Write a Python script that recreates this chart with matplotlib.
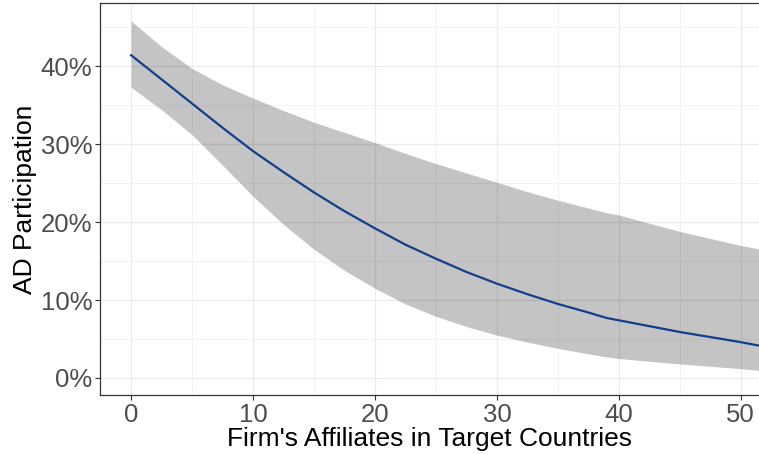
import numpy as np
import matplotlib
matplotlib.use("Agg")
import matplotlib.pyplot as plt
from matplotlib.ticker import FuncFormatter, MultipleLocator

plt.rcParams['font.family'] = ['Liberation Sans', 'DejaVu Sans']

# predicted participation and 95% band against number of affiliates
affiliates = [0, 2.5, 5, 7.5, 10, 12.5, 15, 17.5, 20, 22.5, 25, 27.5, 30,
              32.5, 35, 37.5, 39, 40, 45, 50, 52]
fit = [0.414, 0.383, 0.352, 0.321, 0.291, 0.264, 0.238, 0.214, 0.192, 0.171, 0.153,
       0.136, 0.121, 0.1075, 0.095, 0.084, 0.077, 0.074, 0.059, 0.046, 0.040]
upper = [0.458, 0.425, 0.397, 0.376, 0.359, 0.343, 0.328, 0.315, 0.302, 0.288, 0.275,
         0.263, 0.251, 0.239, 0.228, 0.218, 0.212, 0.209, 0.188, 0.170, 0.164]
lower = [0.373, 0.344, 0.312, 0.273, 0.233, 0.197, 0.165, 0.138, 0.115, 0.095, 0.079,
         0.066, 0.055, 0.046, 0.038, 0.031, 0.027, 0.025, 0.018, 0.012, 0.009]

x_ticks = [0, 10, 20, 30, 40, 50]
y_ticks = [0.0, 0.1, 0.2, 0.3, 0.4]

fig = plt.figure(figsize=(7.59, 4.54), dpi=100)
ax = fig.add_axes([0.1318, 0.130, 0.8690, 0.8634])

ax.fill_between(affiliates, lower, upper, color='black', alpha=0.23, linewidth=0, zorder=2)
ax.plot(affiliates, fit, color='#123f8c', linewidth=1.6, zorder=3)

ax.set_xlim(-2.55, 51.55)
ax.set_ylim(-0.0218, 0.481)

ax.set_xticks(x_ticks)
ax.set_yticks(y_ticks)
ax.xaxis.set_minor_locator(MultipleLocator(5))
ax.yaxis.set_minor_locator(MultipleLocator(0.05))
ax.yaxis.set_major_formatter(FuncFormatter(lambda v, _: f"{v * 100:.0f}%"))

ax.grid(which='major', color='#EBEBEB', linewidth=0.9, zorder=0)
ax.grid(which='minor', color='#F0F0F0', linewidth=0.6, zorder=0)
ax.set_axisbelow(True)

for side in ['left', 'bottom', 'top']:
    ax.spines[side].set_color('#333333')
    ax.spines[side].set_linewidth(0.9)
ax.spines['right'].set_visible(False)

ax.tick_params(which='major', length=3.5, width=0.8, color='#333333',
               labelsize=18.5, labelcolor='#4D4D4D', pad=2)
ax.tick_params(which='minor', length=0)

ax.set_xlabel("Firm's Affiliates in Target Countries", fontsize=19, color='black', labelpad=0)
ax.set_ylabel("AD Participation", fontsize=19, color='black', labelpad=3)

fig.savefig("out.png", dpi=100)
